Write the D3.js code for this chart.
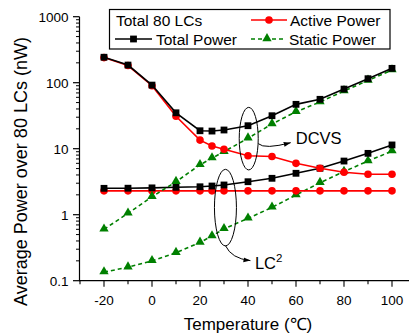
<!DOCTYPE html>
<html>
<head>
<meta charset="utf-8">
<script src="https://cdn.jsdelivr.net/npm/d3@7"></script>
<style>
body { margin:0; background:#fff; }
svg { display:block; font-family: Arial, "Liberation Sans", sans-serif; }
</style>
</head>
<body>
<svg id="chart" width="409" height="334"></svg>
<script>
const temps = [-20,-10,0,10,20,25,30,40,50,60,70,80,90,100];
const dcvsTotal  = [243,185,92,35,18.7,18.5,19.2,22.3,31.6,47,56,80,115,165];
const dcvsActive = [240,182,90,31,13.5,11,9.8,7.8,7.6,6.0,5.05,4.4,4.1,4.1];
const dcvsStatic = [0.6,1.05,1.87,3.16,5.7,7.2,9.0,14.4,23.7,36.3,51,75,108,155];
const lcTotal  = [2.51,2.52,2.55,2.6,2.65,2.72,2.82,3.16,3.56,4.24,5.05,6.5,8.5,11.4];
const lcActive = [2.3,2.3,2.3,2.3,2.3,2.3,2.3,2.3,2.3,2.3,2.3,2.3,2.3,2.3];
const lcStatic = [0.135,0.16,0.2,0.265,0.38,0.475,0.61,0.88,1.29,1.99,3.05,4.5,6.5,9.2];
const xTicks = [-20,0,20,40,60,80,100];
const yTicks = [0.1,1,10,100,1000];
const yTickLabels = ["0.1","1","10","100","1000"];
const legendTitle = "Total 80 LCs";
const seriesNames = ["Total Power","Active Power","Static Power"];

const svg = d3.select("#chart");
const x = d3.scaleLinear().domain([-30,110]).range([80,416]);
const y = d3.scaleLog().domain([0.1,1000]).range([280.7,16.7]);

// Axes
const xAxis = svg.append("g").attr("transform","translate(0,280.7)");
xAxis.append("line").attr("x1",79.5).attr("x2",409).attr("y1",0).attr("y2",0).attr("stroke","#000").attr("stroke-width",1.2);
const xMinor = d3.range(-30,111,10);
xAxis.selectAll("line.mt").data(xMinor).join("line")
  .attr("x1",d=>x(d)).attr("x2",d=>x(d)).attr("y1",0)
  .attr("y2",d=>xTicks.includes(d)?6:3.5).attr("stroke","#000").attr("stroke-width",1.1);
xAxis.selectAll("text").data(xTicks).join("text")
  .attr("x",d=>x(d)).attr("y",24.5).attr("text-anchor","middle")
  .attr("font-size","13.5px").text(d=>d);

const yAxis = svg.append("g").attr("transform","translate(79.5,0)");
yAxis.append("line").attr("x1",0).attr("x2",0).attr("y1",y(1000)).attr("y2",281.3).attr("stroke","#000").attr("stroke-width",1.2);
const yMinor = [];
[0.1,1,10,100].forEach(b=>{for(let k=2;k<=9;k++) yMinor.push(b*k);});
yAxis.selectAll("line.mn").data(yMinor).join("line")
  .attr("x1",-3.5).attr("x2",0).attr("y1",d=>y(d)).attr("y2",d=>y(d)).attr("stroke","#000").attr("stroke-width",1);
yAxis.selectAll("line.mj").data(yTicks).join("line")
  .attr("x1",-6.5).attr("x2",0).attr("y1",d=>y(d)).attr("y2",d=>y(d)).attr("stroke","#000").attr("stroke-width",1.2);
yAxis.selectAll("text").data(yTicks).join("text")
  .attr("x",-11).attr("y",d=>y(d)+4.8).attr("text-anchor","end")
  .attr("font-size","13.5px").text((d,i)=>yTickLabels[i]);

// Axis titles
svg.append("text").attr("transform","translate(27,171.5) rotate(-90)")
  .attr("text-anchor","middle").attr("font-size","18px").text("Average Power over 80 LCs (nW)");
svg.append("text").attr("x",248).attr("y",329.5).attr("text-anchor","middle")
  .attr("font-size","17px").text("Temperature (\u2103)");

// Series
const line = d3.line().x(d=>x(d[0])).y(d=>y(d[1]));
function zip(vals){ return temps.map((t,i)=>[t,vals[i]]); }
const triangle = d3.symbol().type(d3.symbolTriangle).size(38);

function drawStatic(vals){
  const data = zip(vals);
  svg.append("path").datum(data).attr("d",line).attr("fill","none")
    .attr("stroke","#008000").attr("stroke-width",1.6).attr("stroke-dasharray","4,3");
  svg.append("g").selectAll("path").data(data).join("path")
    .attr("d",triangle).attr("transform",d=>`translate(${x(d[0])},${y(d[1])-0.5})`).attr("fill","#008000");
}
function drawActive(vals){
  const data = zip(vals);
  svg.append("path").datum(data).attr("d",line).attr("fill","none")
    .attr("stroke","#ff0000").attr("stroke-width",1.6);
  svg.append("g").selectAll("circle").data(data).join("circle")
    .attr("cx",d=>x(d[0])).attr("cy",d=>y(d[1])).attr("r",3.8).attr("fill","#ff0000");
}
function drawTotal(vals){
  const data = zip(vals);
  svg.append("path").datum(data).attr("d",line).attr("fill","none")
    .attr("stroke","#000").attr("stroke-width",1.6);
  svg.append("g").selectAll("rect").data(data).join("rect")
    .attr("x",d=>x(d[0])-3.4).attr("y",d=>y(d[1])-3.4).attr("width",6.8).attr("height",6.8).attr("fill","#000");
}
drawStatic(lcStatic);
drawActive(lcActive);
drawTotal(lcTotal);
drawStatic(dcvsStatic);
drawActive(dcvsActive);
drawTotal(dcvsTotal);

// Annotations
svg.append("defs").append("marker").attr("id","arr").attr("viewBox","0 0 10 10")
  .attr("refX",10).attr("refY",5).attr("markerWidth",7).attr("markerHeight",7)
  .attr("markerUnits","userSpaceOnUse").attr("orient","auto")
  .append("path").attr("d","M0,1.5 L10,5 L0,8.5 Z").attr("fill","#000");

svg.append("ellipse").attr("cx",x(40.3)).attr("cy",y(14.2)).attr("rx",9.5).attr("ry",31.3)
  .attr("fill","none").attr("stroke","#000").attr("stroke-width",1);
svg.append("path").attr("d",`M${x(40.3)+9.5},${y(14.2)+5} Q${x(40.3)+16},${y(14.2)+11} ${x(40.3)+42},${y(14.2)+4}`)
  .attr("fill","none").attr("stroke","#000").attr("stroke-width",1).attr("marker-end","url(#arr)");
svg.append("text").attr("x",x(40.3)+47).attr("y",y(14.2)+5.5).attr("font-size","16.5px").text("DCVS");

svg.append("ellipse").attr("cx",x(30.6)).attr("cy",y(1.28)).attr("rx",11).attr("ry",38.3)
  .attr("fill","none").attr("stroke","#000").attr("stroke-width",1);
svg.append("path").attr("d",`M${x(30.6)},${y(1.28)+38} Q${x(30.6)+6},${y(1.28)+51} ${x(30.6)+25},${y(1.28)+53}`)
  .attr("fill","none").attr("stroke","#000").attr("stroke-width",1).attr("marker-end","url(#arr)");
const lc = svg.append("text").attr("x",x(30.6)+29.5).attr("y",y(1.28)+61.5).attr("font-size","16.5px");
lc.append("tspan").text("LC");
lc.append("tspan").attr("dy",-7).attr("font-size","11.5px").text("2");

// Legend
const lg = svg.append("g");
lg.append("rect").attr("x",109.5).attr("y",9.5).attr("width",280.5).attr("height",39.5)
  .attr("fill","#fff").attr("stroke","#000").attr("stroke-width",1.2);
lg.append("text").attr("x",116).attr("y",25.5).attr("font-size","15.5px").text(legendTitle);
lg.append("line").attr("x1",115).attr("x2",152).attr("y1",39).attr("y2",39).attr("stroke","#000").attr("stroke-width",1.6);
lg.append("rect").attr("x",133.5-3.4).attr("y",39-3.4).attr("width",6.8).attr("height",6.8).attr("fill","#000");
lg.append("text").attr("x",156).attr("y",44.5).attr("font-size","15.5px").text(seriesNames[0]);
lg.append("line").attr("x1",251).attr("x2",287).attr("y1",20).attr("y2",20).attr("stroke","#ff0000").attr("stroke-width",1.6);
lg.append("circle").attr("cx",269).attr("cy",20).attr("r",3.8).attr("fill","#ff0000");
lg.append("text").attr("x",290).attr("y",25.5).attr("font-size","15.5px").text(seriesNames[1]);
lg.append("line").attr("x1",251).attr("x2",283).attr("y1",39).attr("y2",39).attr("stroke","#008000").attr("stroke-width",1.6).attr("stroke-dasharray","4,3");
lg.append("path").attr("d",triangle).attr("transform","translate(267,38.5)").attr("fill","#008000");
lg.append("text").attr("x",289).attr("y",44.5).attr("font-size","15.5px").text(seriesNames[2]);
</script>
</body>
</html>
